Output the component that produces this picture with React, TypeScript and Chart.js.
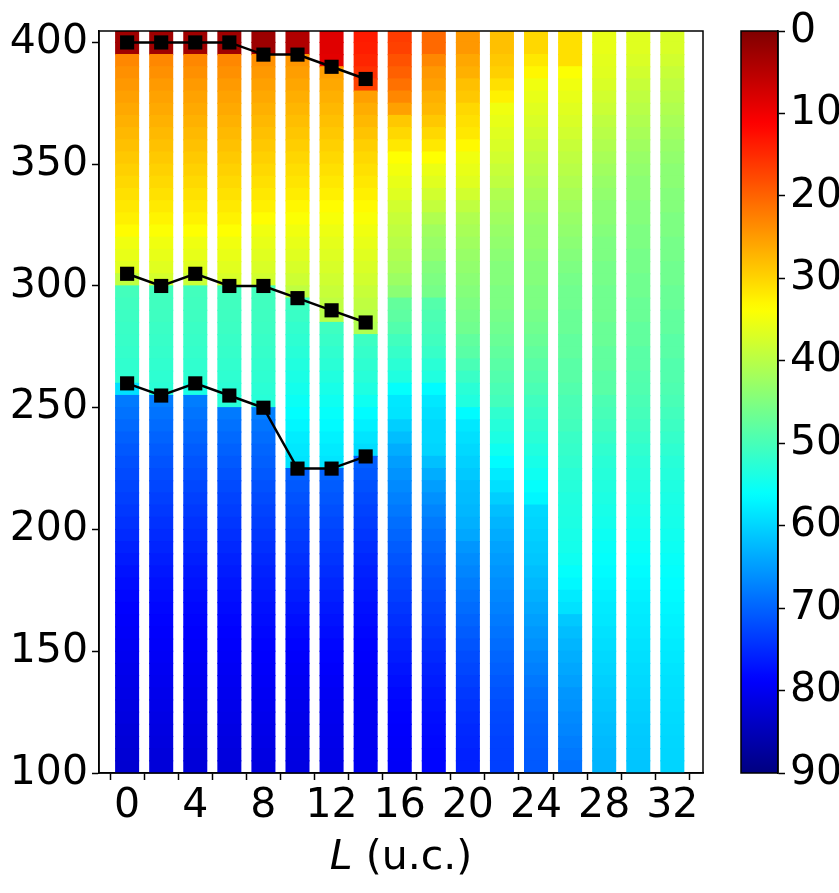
import { useEffect, useRef } from "react";
import { Chart, registerables } from "chart.js";

Chart.register(...registerables);

// ---------------- data ----------------
const L_VALUES = [0, 2, 4, 6, 8, 10, 12, 14, 16, 18, 20, 22, 24, 26, 28, 30, 32];

// lower edge of every cell (each cell is CELL_HEIGHT tall)
const Y_CELLS = [
  100, 105, 110, 115, 120, 125, 130, 135, 140, 145,
  150, 155, 160, 165, 170, 175, 180, 185, 190, 195,
  200, 205, 210, 215, 220, 225, 230, 235, 240, 245,
  250, 255, 260, 265, 270, 275, 280, 285, 290, 295,
  300, 305, 310, 315, 320, 325, 330, 335, 340, 345,
  350, 355, 360, 365, 370, 375, 380, 385, 390, 395,
  400,
];
const CELL_HEIGHT = 5;

// colour values (0..90) per column, bottom -> top
const COL_L0 = [82.8, 82.5, 82.2, 81.9, 81.5, 81.2, 80.9, 80.6, 80.3, 80.0, 79.6, 79.3, 79.0, 78.7, 78.2, 77.7, 77.2, 76.5, 75.8, 75.0, 74.4, 73.8, 73.2, 72.7, 72.2, 71.7, 71.0, 70.3, 69.5, 68.7, 68.0, 59.0, 52.2, 52.0, 51.7, 51.4, 51.2, 51.0, 50.7, 50.3, 39.4, 36.5, 35.8, 35.1, 33.5, 32.4, 31.7, 31.0, 30.3, 29.6, 28.9, 28.2, 27.5, 26.8, 26.1, 25.4, 24.7, 24.0, 23.2, 2.9, 2.9];
const COL_L2 = [82.1, 81.9, 81.6, 81.3, 81.0, 80.7, 80.4, 80.1, 79.8, 79.5, 79.2, 78.9, 78.6, 78.2, 77.8, 77.3, 76.8, 76.2, 75.6, 75.0, 74.4, 73.8, 73.2, 72.6, 72.0, 71.4, 70.7, 70.0, 69.3, 68.6, 67.8, 52.6, 52.3, 52.0, 51.7, 51.4, 51.1, 50.8, 50.6, 50.4, 37.5, 36.5, 35.8, 35.1, 34.0, 32.8, 31.9, 31.1, 30.4, 29.7, 29.0, 28.3, 27.6, 26.9, 26.2, 25.5, 24.8, 24.0, 23.2, 2.9, 2.9];
const COL_L4 = [82.1, 81.8, 81.5, 81.2, 80.9, 80.6, 80.3, 80.0, 79.7, 79.4, 79.1, 78.8, 78.5, 78.1, 77.7, 77.2, 76.7, 76.1, 75.5, 74.9, 74.3, 73.7, 73.1, 72.5, 71.9, 71.3, 70.6, 69.9, 69.2, 68.5, 67.7, 54.0, 52.3, 52.0, 51.7, 51.4, 51.1, 50.8, 50.6, 50.4, 38.5, 36.6, 35.9, 35.2, 33.8, 32.6, 31.8, 31.1, 30.4, 29.7, 29.0, 28.3, 27.6, 26.9, 26.2, 25.5, 24.8, 24.0, 23.2, 2.9, 2.9];
const COL_L6 = [82.0, 81.7, 81.4, 81.1, 80.8, 80.5, 80.2, 79.9, 79.6, 79.3, 79.0, 78.7, 78.3, 77.9, 77.4, 76.9, 76.4, 75.8, 75.2, 74.6, 74.0, 73.4, 72.8, 72.2, 71.6, 70.9, 70.2, 69.5, 68.8, 68.0, 52.8, 52.5, 52.2, 51.9, 51.6, 51.3, 51.0, 50.8, 50.6, 50.4, 37.2, 36.4, 35.7, 35.0, 33.8, 32.6, 31.8, 31.1, 30.4, 29.7, 29.0, 28.3, 27.6, 26.9, 26.2, 25.5, 24.8, 24.0, 23.2, 2.9, 2.9];
const COL_L8 = [81.5, 81.2, 80.9, 80.6, 80.3, 80.0, 79.7, 79.4, 79.1, 78.8, 78.5, 78.1, 77.7, 77.3, 76.8, 76.3, 75.8, 75.2, 74.6, 74.0, 73.4, 72.8, 72.2, 71.6, 71.0, 70.4, 69.8, 69.1, 68.4, 67.5, 52.8, 52.5, 52.2, 51.9, 51.6, 51.3, 51.0, 50.8, 50.6, 50.4, 37.8, 37.1, 36.5, 35.8, 35.1, 33.6, 32.4, 31.7, 31.0, 30.3, 29.6, 28.9, 28.2, 27.5, 26.8, 26.1, 25.4, 24.7, 24.0, 2.5, 2.5];
const COL_L10 = [81.4, 81.2, 81.0, 80.8, 80.6, 80.3, 80.0, 79.7, 79.4, 79.0, 78.5, 78.0, 77.5, 76.9, 76.3, 75.7, 75.1, 74.5, 73.9, 73.3, 72.7, 72.1, 71.5, 70.9, 70.3, 58.6, 58.3, 57.8, 57.0, 56.2, 55.4, 54.6, 54.0, 53.4, 52.8, 52.3, 51.8, 51.2, 50.6, 39.4, 38.2, 37.3, 36.5, 35.8, 35.0, 34.0, 33.0, 32.2, 31.5, 30.8, 30.1, 29.4, 28.7, 28.0, 27.3, 26.6, 25.9, 25.2, 24.5, 4.3, 4.3];
const COL_L12 = [81.0, 80.8, 80.6, 80.4, 80.2, 80.0, 79.7, 79.4, 79.0, 78.6, 78.2, 77.7, 77.2, 76.6, 76.0, 75.4, 74.8, 74.2, 73.6, 73.0, 72.4, 71.8, 71.2, 70.6, 70.0, 58.5, 58.0, 57.4, 56.6, 55.8, 55.0, 54.2, 53.4, 52.6, 52.0, 51.4, 50.8, 40.0, 39.4, 38.7, 38.0, 37.3, 36.7, 36.0, 35.3, 34.5, 33.5, 32.4, 31.7, 31.0, 30.3, 29.6, 28.9, 28.2, 27.5, 26.8, 26.1, 25.4, 8.8, 8.5, 8.5];
const COL_L14 = [80.1, 80.0, 80.0, 79.9, 79.8, 79.7, 79.6, 79.4, 79.2, 78.9, 78.6, 78.2, 77.8, 77.4, 76.9, 76.4, 75.9, 75.3, 74.7, 74.1, 73.5, 72.9, 72.3, 71.7, 71.1, 70.5, 59.3, 58.5, 57.5, 56.5, 55.0, 53.6, 52.8, 52.2, 51.6, 51.0, 40.7, 40.0, 39.4, 38.7, 37.8, 37.1, 36.5, 35.8, 35.1, 34.3, 33.3, 32.4, 31.7, 31.0, 30.3, 29.5, 28.5, 27.5, 26.5, 25.4, 17.0, 15.5, 14.5, 13.8, 13.5];
const COL_L16 = [79.5, 79.3, 79.1, 78.9, 78.7, 78.4, 78.0, 77.5, 77.0, 76.4, 75.8, 75.2, 74.6, 74.0, 73.3, 72.7, 72.0, 71.3, 70.6, 69.8, 69.0, 68.2, 67.4, 66.6, 65.8, 64.8, 63.5, 62.0, 60.5, 58.5, 58.3, 56.0, 53.5, 52.5, 51.5, 50.5, 49.0, 48.0, 47.5, 44.0, 42.5, 41.4, 40.7, 40.0, 39.4, 38.7, 37.8, 36.6, 35.8, 34.8, 33.8, 31.7, 30.3, 28.9, 25.4, 23.2, 21.2, 19.7, 18.5, 17.0, 16.5];
const COL_L18 = [78.4, 78.3, 78.1, 77.9, 77.6, 77.2, 76.8, 76.3, 75.8, 75.2, 74.6, 74.0, 73.4, 72.8, 72.2, 71.6, 71.0, 70.3, 69.6, 68.8, 68.0, 67.0, 66.0, 64.8, 63.5, 61.8, 60.0, 59.6, 59.6, 59.0, 58.3, 56.5, 53.4, 52.6, 51.4, 50.6, 50.0, 49.5, 48.8, 45.8, 45.2, 44.6, 43.4, 42.8, 42.1, 40.7, 39.0, 37.8, 36.5, 35.5, 33.8, 31.7, 30.3, 28.9, 27.5, 26.8, 25.4, 24.7, 23.2, 20.5, 20.5];
const COL_L20 = [76.0, 75.8, 75.5, 75.2, 74.8, 74.3, 73.8, 73.2, 72.6, 72.0, 71.3, 70.6, 69.9, 69.2, 68.5, 67.8, 67.0, 66.3, 65.5, 64.0, 63.2, 62.6, 62.2, 61.9, 61.0, 60.3, 59.6, 59.0, 58.3, 56.5, 53.4, 52.6, 51.2, 49.8, 48.4, 47.7, 46.4, 45.8, 45.2, 44.6, 44.0, 43.4, 42.8, 42.1, 41.4, 40.7, 39.4, 37.8, 36.5, 35.8, 35.1, 33.2, 31.7, 31.0, 30.3, 28.9, 28.2, 26.8, 26.0, 24.7, 24.7];
const COL_L22 = [73.2, 73.1, 73.0, 72.7, 72.4, 72.0, 71.5, 71.0, 70.4, 69.8, 69.2, 68.6, 68.0, 67.4, 66.8, 66.2, 65.6, 65.0, 64.4, 63.6, 62.8, 61.9, 60.5, 59.0, 58.0, 56.5, 55.0, 53.8, 53.0, 52.0, 50.3, 49.7, 49.0, 48.4, 47.7, 47.0, 46.4, 45.8, 45.2, 45.2, 44.6, 44.6, 44.0, 43.4, 42.8, 42.1, 41.4, 40.7, 39.4, 38.7, 37.8, 37.1, 36.5, 35.8, 35.1, 32.5, 31.0, 29.6, 28.9, 28.2, 28.2];
const COL_L24 = [70.9, 70.7, 70.5, 70.2, 69.8, 69.4, 68.9, 68.2, 67.5, 66.8, 66.0, 65.3, 64.6, 63.9, 63.2, 62.5, 61.9, 61.2, 60.8, 60.4, 60.0, 59.6, 57.0, 56.0, 55.0, 54.2, 53.4, 52.6, 52.0, 51.3, 50.6, 49.7, 49.0, 48.4, 47.7, 47.0, 46.4, 45.8, 45.2, 45.2, 44.6, 44.6, 44.0, 43.4, 43.4, 42.8, 42.1, 41.4, 40.7, 40.0, 39.4, 38.7, 37.8, 37.1, 36.5, 35.8, 35.1, 33.0, 31.7, 30.3, 30.3];
const COL_L26 = [68.8, 68.2, 67.6, 67.0, 66.6, 66.0, 65.5, 64.6, 64.0, 63.4, 62.8, 62.0, 61.0, 58.8, 58.0, 56.8, 56.0, 55.0, 54.5, 54.2, 53.8, 53.6, 53.4, 53.0, 52.6, 52.0, 51.6, 51.2, 50.4, 49.9, 49.7, 49.0, 48.4, 48.4, 47.7, 47.7, 47.0, 47.0, 46.4, 46.4, 45.8, 45.2, 44.6, 44.0, 43.4, 42.8, 42.1, 41.4, 40.7, 40.0, 39.4, 38.7, 37.8, 37.1, 36.5, 35.8, 35.1, 34.0, 31.0, 31.0, 31.0];
const COL_L28 = [62.8, 62.6, 62.3, 62.0, 61.6, 61.2, 60.8, 60.4, 60.0, 59.6, 59.2, 58.8, 58.3, 58.0, 57.6, 57.0, 56.5, 56.0, 55.6, 55.2, 54.6, 54.2, 53.8, 53.4, 53.0, 52.6, 52.0, 51.3, 50.6, 50.0, 49.5, 48.4, 48.4, 47.7, 47.7, 47.0, 47.0, 46.4, 46.4, 46.4, 45.8, 45.8, 45.2, 45.2, 44.6, 44.0, 44.0, 43.4, 42.8, 42.1, 41.4, 40.7, 40.0, 39.4, 38.4, 37.8, 37.1, 36.5, 36.2, 35.8, 35.8];
const COL_L30 = [61.4, 61.2, 61.0, 60.8, 60.5, 60.2, 59.9, 59.6, 59.3, 59.0, 58.7, 58.4, 58.1, 57.8, 57.4, 57.0, 56.5, 56.0, 55.5, 55.0, 54.6, 54.2, 53.8, 53.4, 53.0, 52.6, 52.0, 51.4, 50.8, 50.2, 49.7, 49.2, 49.0, 48.4, 48.4, 47.7, 47.7, 47.0, 47.0, 46.4, 46.4, 45.8, 45.8, 45.2, 45.2, 44.6, 44.6, 44.0, 44.0, 43.4, 42.8, 42.1, 41.4, 40.7, 40.0, 39.4, 38.7, 37.8, 37.0, 36.5, 36.5];
const COL_L32 = [60.0, 59.9, 59.8, 59.6, 59.4, 59.2, 59.0, 58.8, 58.5, 58.2, 57.9, 57.6, 57.3, 57.0, 56.6, 56.3, 56.0, 55.6, 55.2, 54.8, 54.4, 54.2, 54.0, 53.6, 53.2, 52.8, 52.2, 51.6, 51.0, 50.4, 49.8, 49.4, 49.0, 49.0, 48.4, 48.4, 47.7, 47.7, 47.0, 47.0, 46.4, 46.4, 45.8, 45.8, 45.2, 45.2, 44.6, 44.6, 44.0, 44.0, 43.4, 42.8, 42.1, 41.4, 40.7, 40.0, 39.4, 38.7, 37.8, 37.1, 37.1];

const COLUMNS = [COL_L0, COL_L2, COL_L4, COL_L6, COL_L8, COL_L10, COL_L12, COL_L14, COL_L16, COL_L18, COL_L20, COL_L22, COL_L24, COL_L26, COL_L28, COL_L30, COL_L32];

// black boundary lines
const LINE_L = [0, 2, 4, 6, 8, 10, 12, 14];
const TOP_LINE = [400, 400, 400, 400, 395, 395, 390, 385];
const MID_LINE = [305, 300, 305, 300, 300, 295, 290, 285];
const LOW_LINE = [260, 255, 260, 255, 250, 225, 225, 230];

// axes
const X_TICKS = [0, 2, 4, 6, 8, 10, 12, 14, 16, 18, 20, 22, 24, 26, 28, 30, 32];
const Y_TICKS = [100, 150, 200, 250, 300, 350, 400];
const CB_TICKS = [0, 10, 20, 30, 40, 50, 60, 70, 80, 90];
const X_MIN = -1.65;
const X_MAX = 33.8;
const Y_MIN = 100;
const Y_MAX = 404.7;
const CB_MIN = 0;
const CB_MAX = 90;

// ---------------- style ----------------
const FONT = "DejaVu Sans";
const FONT_SIZE = 41;
const W = 839;
const H = 893;

function jet(t: number): [number, number, number] {
  const c = (x: number) => Math.max(0, Math.min(1, x));
  return [c(1.5 - Math.abs(4 * t - 3)), c(1.5 - Math.abs(4 * t - 2)), c(1.5 - Math.abs(4 * t - 1))];
}
function valueColor(v: number): string {
  const t = 1 - (v - CB_MIN) / (CB_MAX - CB_MIN);
  const [r, g, b] = jet(t);
  return `rgb(${Math.round(r * 255)},${Math.round(g * 255)},${Math.round(b * 255)})`;
}

const framePlugin = {
  id: "frame",
  afterDraw(chart: any) {
    const { ctx, chartArea } = chart;
    ctx.save();
    ctx.strokeStyle = "#000";
    ctx.lineWidth = 1.5;
    ctx.strokeRect(chartArea.left, chartArea.top, chartArea.right - chartArea.left, chartArea.bottom - chartArea.top);
    ctx.restore();
  },
};

const xTitlePlugin = {
  id: "xTitle",
  afterDraw(chart: any) {
    const { ctx, chartArea } = chart;
    ctx.save();
    const italic = `italic ${FONT_SIZE}px "${FONT}"`;
    const normal = `${FONT_SIZE}px "${FONT}"`;
    const a = "L";
    const b = " (u.c.)";
    ctx.font = italic;
    const wa = ctx.measureText(a).width;
    ctx.font = normal;
    const wb = ctx.measureText(b).width;
    const cx = (chartArea.left + chartArea.right) / 2;
    const x0 = cx - (wa + wb) / 2;
    const y = 858;
    ctx.fillStyle = "#000";
    ctx.textBaseline = "middle";
    ctx.textAlign = "left";
    ctx.font = italic;
    ctx.fillText(a, x0, y);
    ctx.font = normal;
    ctx.fillText(b, x0 + wa, y);
    ctx.restore();
  },
};

const colorbarPlugin = {
  id: "colorbarFill",
  beforeDraw(chart: any) {
    const { ctx, chartArea } = chart;
    const ys = chart.scales.y;
    const top = chartArea.top;
    const bottom = chartArea.bottom;
    const grad = ctx.createLinearGradient(0, top, 0, bottom);
    const n = 90;
    for (let i = 0; i <= n; i++) {
      const v = CB_MIN + ((CB_MAX - CB_MIN) * i) / n;
      const p = (ys.getPixelForValue(v) - top) / (bottom - top);
      grad.addColorStop(Math.max(0, Math.min(1, p)), valueColor(v));
    }
    ctx.save();
    ctx.fillStyle = grad;
    ctx.fillRect(chartArea.left, top, chartArea.right - chartArea.left, bottom - top);
    ctx.restore();
  },
  afterDraw(chart: any) {
    const { ctx, chartArea } = chart;
    ctx.save();
    ctx.strokeStyle = "#000";
    ctx.lineWidth = 1.5;
    ctx.strokeRect(chartArea.left, chartArea.top, chartArea.right - chartArea.left, chartArea.bottom - chartArea.top);
    ctx.restore();
  },
};

export default function App() {
  const mainRef = useRef<HTMLCanvasElement | null>(null);
  const cbRef = useRef<HTMLCanvasElement | null>(null);

  useEffect(() => {
    if (!mainRef.current || !cbRef.current) return;
    Chart.defaults.font.family = FONT;

    const lineDs = (vals: number[]) => ({
      type: "line" as const,
      data: LINE_L.map((x, i) => ({ x, y: vals[i] })),
      borderColor: "#000",
      borderWidth: 2.5,
      pointStyle: "rect",
      pointRadius: 10,
      pointHoverRadius: 10,
      pointBackgroundColor: "#000",
      pointBorderColor: "#000",
      pointBorderWidth: 0,
      tension: 0,
      order: 0,
    });

    const cellDatasets = Y_CELLS.map((y0, k) => ({
      type: "bar" as const,
      data: L_VALUES.map((x) => ({ x, y: [y0, y0 + CELL_HEIGHT] })),
      backgroundColor: COLUMNS.map((col) => valueColor(col[k])),
      borderWidth: 0,
      inflateAmount: 0.6,
      grouped: false,
      barPercentage: 0.67,
      categoryPercentage: 1,
      order: 1,
    }));

    const axisFont = { family: FONT, size: FONT_SIZE };

    const main = new Chart(mainRef.current, {
      type: "bar",
      data: {
        datasets: [lineDs(TOP_LINE), lineDs(MID_LINE), lineDs(LOW_LINE), ...cellDatasets] as any,
      },
      options: {
        responsive: false,
        animation: false,
        events: [],
        layout: { padding: { left: 0, right: W - 703, top: 31, bottom: 0 } },
        plugins: { legend: { display: false }, tooltip: { enabled: false } },
        scales: {
          x: {
            type: "linear",
            min: X_MIN,
            max: X_MAX,
            offset: false,
            afterBuildTicks: (s: any) => {
              s.ticks = X_TICKS.map((v) => ({ value: v }));
            },
            afterFit: (s: any) => {
              s.height = 120;
            },
            grid: { drawOnChartArea: false, drawTicks: true, tickLength: 7, tickColor: "#000", tickWidth: 1.5 },
            border: { display: true, color: "#000", width: 1.5 },
            ticks: {
              color: "#000",
              font: axisFont,
              padding: 2,
              maxRotation: 0,
              autoSkip: false,
              callback: (v: any) => (Number(v) % 4 === 0 ? String(v) : ""),
            },
          },
          y: {
            type: "linear",
            min: Y_MIN,
            max: Y_MAX,
            afterBuildTicks: (s: any) => {
              s.ticks = Y_TICKS.map((v) => ({ value: v }));
            },
            afterFit: (s: any) => {
              s.width = 99;
            },
            grid: { drawOnChartArea: false, drawTicks: true, tickLength: 7, tickColor: "#000", tickWidth: 1.5 },
            border: { display: true, color: "#000", width: 1.5 },
            ticks: { color: "#000", font: axisFont, padding: 4, autoSkip: false },
          },
        },
      } as any,
      plugins: [framePlugin, xTitlePlugin],
    });

    const cb = new Chart(cbRef.current, {
      type: "bar",
      data: { labels: [""], datasets: [] },
      options: {
        responsive: false,
        animation: false,
        events: [],
        layout: { padding: { left: 41, right: 0, top: 31, bottom: 120 } },
        plugins: { legend: { display: false }, tooltip: { enabled: false } },
        scales: {
          x: { display: false },
          y: {
            type: "linear",
            position: "right",
            min: CB_MIN,
            max: CB_MAX,
            reverse: true,
            afterBuildTicks: (s: any) => {
              s.ticks = CB_TICKS.map((v) => ({ value: v }));
            },
            afterFit: (s: any) => {
              s.width = 61;
            },
            grid: { drawOnChartArea: false, drawTicks: true, tickLength: 7, tickColor: "#000", tickWidth: 1.5 },
            border: { display: true, color: "#000", width: 1.5 },
            ticks: { color: "#000", font: axisFont, padding: 5, autoSkip: false },
          },
        },
      } as any,
      plugins: [colorbarPlugin],
    });

    return () => {
      main.destroy();
      cb.destroy();
    };
  }, []);

  return (
    <div style={{ position: "fixed", left: 0, top: 0, width: W, height: H, background: "#fff", overflow: "hidden" }}>
      <canvas ref={mainRef} width={W} height={H} style={{ position: "absolute", left: 0, top: 0, width: W, height: H }} />
      <canvas ref={cbRef} width={139} height={H} style={{ position: "absolute", left: 700, top: 0, width: 139, height: H }} />
    </div>
  );
}
